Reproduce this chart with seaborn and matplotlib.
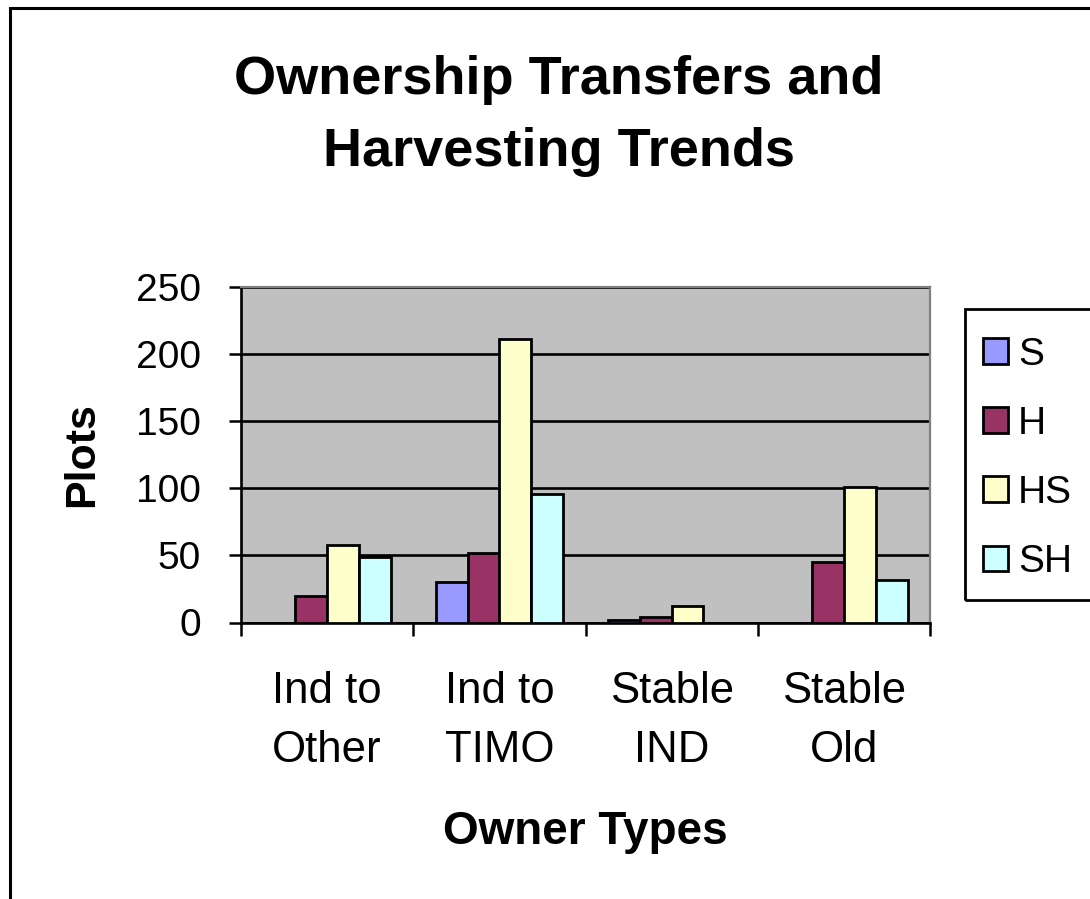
import matplotlib
matplotlib.use("Agg")
import matplotlib.pyplot as plt
import matplotlib.patches as mpatches
import pandas as pd
import seaborn as sns

# Plot counts per owner-type transition and harvesting pattern
owner_types = ["Ind to\nOther", "Ind to\nTIMO", "Stable\nIND", "Stable\nOld"]
series = ["S", "H", "HS", "SH"]
s_vals = [0, 30, 2, 0]
h_vals = [20, 52, 4, 45]
hs_vals = [58, 211, 12, 101]
sh_vals = [49, 96, 0, 32]
y_ticks = [0, 50, 100, 150, 200, 250]

colors = ["#9999FF", "#993366", "#FFFFCC", "#CCFFFF"]

df = pd.DataFrame({
    "Owner Types": owner_types * 4,
    "Series": [s for s in series for _ in owner_types],
    "Plots": s_vals + h_vals + hs_vals + sh_vals,
})

sns.set_theme(style="white")
plt.rcParams["font.family"] = ["Liberation Sans", "DejaVu Sans"]
plt.rcParams.update({
    "text.color": "black",
    "axes.labelcolor": "black",
    "xtick.color": "black",
    "ytick.color": "black",
})

fig = plt.figure(figsize=(10.9, 8.99), dpi=100)
fig.patch.set_facecolor("white")
ax = fig.add_axes([241 / 1090, 1 - 622.5 / 899, (930 - 241) / 1090, (622.5 - 287) / 899])
ax.set_facecolor("#C0C0C0")

sns.barplot(data=df, x="Owner Types", y="Plots", hue="Series",
            order=owner_types, hue_order=series, palette=colors,
            saturation=1, width=0.74, gap=0, edgecolor="black", linewidth=2.0,
            legend=False, ax=ax, zorder=3)

ax.set_ylim(0, 250)
ax.set_xlim(-0.5, len(owner_types) - 0.5)
ax.set_yticks(y_ticks)
ax.set_yticklabels([str(v) for v in y_ticks], fontsize=28)
ax.yaxis.grid(True, color="black", linewidth=1.9, zorder=1)
ax.set_axisbelow(True)

# Category boundaries carry the tick marks, centres carry the labels
ax.set_xticks([i - 0.5 for i in range(len(owner_types) + 1)])
ax.set_xticklabels([])
ax.set_xticks(range(len(owner_types)), minor=True)
ax.set_xticklabels(owner_types, minor=True, fontsize=31.5, linespacing=1.55)
ax.tick_params(axis="x", which="major", direction="out", length=9, width=1.8,
               color="black", bottom=True)
ax.tick_params(axis="x", which="minor", length=0, pad=35)
ax.tick_params(axis="y", direction="out", length=9, width=1.8, color="black",
               left=True, pad=20)

for side in ["left", "bottom"]:
    ax.spines[side].set_color("black")
    ax.spines[side].set_linewidth(1.9)
for side in ["top", "right"]:
    ax.spines[side].set_color("#808080")
    ax.spines[side].set_linewidth(1.6)

ax.set_xlabel("Owner Types", fontsize=33, fontweight="bold", labelpad=28)
ax.set_ylabel("Plots", fontsize=31, fontweight="bold", labelpad=24)

fig.text(559 / 1090, 1 - 116 / 899, "Ownership Transfers and\nHarvesting Trends",
         ha="center", va="center", fontsize=39, fontweight="bold", linespacing=1.57)

# Legend entries, with a separate box drawn around them
handles = [mpatches.Patch(facecolor=c, edgecolor="black", linewidth=2.0, label=s)
           for c, s in zip(colors, series)]
leg = fig.legend(handles=handles, loc="upper left",
                 bbox_to_anchor=(983 / 1090, 1 - 337 / 899), fontsize=28,
                 frameon=False, handlelength=0.65, handleheight=0.65,
                 handletextpad=0.25, labelspacing=0.85, borderpad=0,
                 borderaxespad=0)
fig.patches.append(mpatches.Rectangle((965 / 1090, 1 - 600 / 899), 0.2,
                                      (600 - 309) / 899, transform=fig.transFigure,
                                      fill=False, edgecolor="black", linewidth=2.0))

# Chart-area border
fig.patches.append(mpatches.Rectangle((10 / 1090, -0.1), 2, 1.1 - 8 / 899,
                                      transform=fig.transFigure, fill=False,
                                      edgecolor="black", linewidth=2.2))

fig.savefig("out.png", dpi=100)
